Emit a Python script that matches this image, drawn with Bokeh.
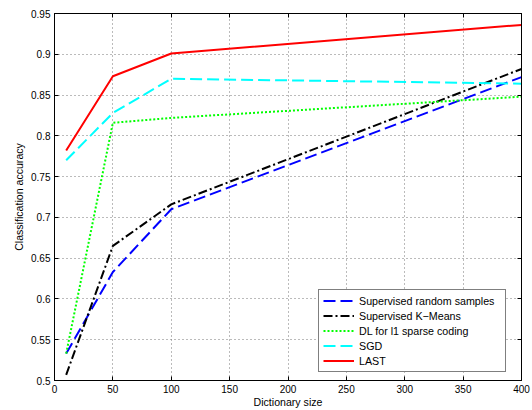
from bokeh.plotting import figure
from bokeh.models import (LinearAxis, FixedTicker, CustomJSTickFormatter, Legend, LegendItem, Range1d)
from bokeh.embed import file_html
from bokeh.resources import INLINE

# ---- data ----
dict_size = [10, 50, 100, 400]
sup_random = [0.533, 0.633, 0.710, 0.872]
sup_kmeans = [0.507, 0.665, 0.716, 0.882]
dl_l1 = [0.533, 0.816, 0.822, 0.848]
sgd = [0.770, 0.828, 0.870, 0.864]
last = [0.782, 0.873, 0.901, 0.936]

series_names = ["Supervised random samples", "Supervised K\u2212Means",
                "DL for l1 sparse coding", "SGD", "LAST"]
x_ticks = [0, 50, 100, 150, 200, 250, 300, 350, 400]
y_ticks = [0.5, 0.55, 0.6, 0.65, 0.7, 0.75, 0.8, 0.85, 0.9, 0.95]

FONT = "Liberation Sans"

p = figure(width=532, height=410, output_backend="svg", toolbar_location=None,
           x_range=Range1d(0, 400), y_range=Range1d(0.5, 0.95),
           min_border_left=54, min_border_right=11, min_border_top=13, min_border_bottom=28,
           x_axis_label="Dictionary size", y_axis_label="Classification accuracy")
p.background_fill_color = "white"
p.border_fill_color = "white"
p.outline_line_color = "black"
p.outline_line_width = 1

fmt = CustomJSTickFormatter(code="return String(Math.round(tick*100)/100);")
blank = CustomJSTickFormatter(code="return '';")

for ax in p.xaxis:
    ax.ticker = FixedTicker(ticks=x_ticks)
for ax in p.yaxis:
    ax.ticker = FixedTicker(ticks=y_ticks)
    ax.formatter = fmt

for ax in p.xaxis + p.yaxis:
    ax.major_tick_in = 4
    ax.major_tick_out = 0
    ax.minor_tick_in = 0
    ax.minor_tick_out = 0
    ax.axis_line_color = "black"
    ax.major_tick_line_color = "black"
    ax.major_label_text_font = FONT
    ax.major_label_text_font_size = "10px"
    ax.major_label_text_color = "black"
    ax.axis_label_text_font = FONT
    ax.axis_label_text_font_size = "10.6px"
    ax.axis_label_text_font_style = "normal"
    ax.axis_label_text_color = "black"
p.xaxis.major_label_standoff = 4
p.xaxis.axis_label_standoff = 0
p.yaxis.major_label_standoff = 4
p.yaxis.axis_label_standoff = 3

# top and right axes: ticks only
top = LinearAxis(ticker=FixedTicker(ticks=x_ticks), formatter=blank,
                 major_label_standoff=0, major_tick_in=4, major_tick_out=0,
                 minor_tick_in=0, minor_tick_out=0, axis_line_color="black")
right = LinearAxis(ticker=FixedTicker(ticks=y_ticks), formatter=blank,
                   major_label_standoff=0, major_tick_in=4, major_tick_out=0,
                   minor_tick_in=0, minor_tick_out=0, axis_line_color="black")
p.add_layout(top, "above")
p.add_layout(right, "right")

for g in p.xgrid + p.ygrid:
    g.grid_line_color = "#777777"
    g.grid_line_dash = "1 3"
    g.grid_line_width = 1
p.xgrid.ticker = FixedTicker(ticks=x_ticks)
p.ygrid.ticker = FixedTicker(ticks=y_ticks)

r1 = p.line(dict_size, sup_random, line_color="#0000ff", line_width=2, line_dash="12 5")
r2 = p.line(dict_size, sup_kmeans, line_color="#000000", line_width=2, line_dash="9 3 2 3")
r3 = p.line(dict_size, dl_l1, line_color="#00ff00", line_width=2, line_dash="2 2")
r4 = p.line(dict_size, sgd, line_color="#00ffff", line_width=2, line_dash="12 5")
r5 = p.line(dict_size, last, line_color="#ff0000", line_width=2)

legend = Legend(items=[LegendItem(label=n, renderers=[r]) for n, r in
                       zip(series_names, [r1, r2, r3, r4, r5])],
                location=(264, 8))
legend.label_text_font = FONT
legend.label_text_font_size = "10.7px"
legend.label_text_color = "black"
legend.label_height = 13
legend.glyph_height = 13
legend.glyph_width = 31
legend.label_standoff = 5
legend.label_width = 142
legend.spacing = 2
legend.padding = 4
legend.margin = 0
legend.border_line_color = "black"
legend.border_line_width = 1
legend.background_fill_color = "white"
legend.background_fill_alpha = 1
p.add_layout(legend)

open("out.html", "w").write(file_html(p, INLINE))
